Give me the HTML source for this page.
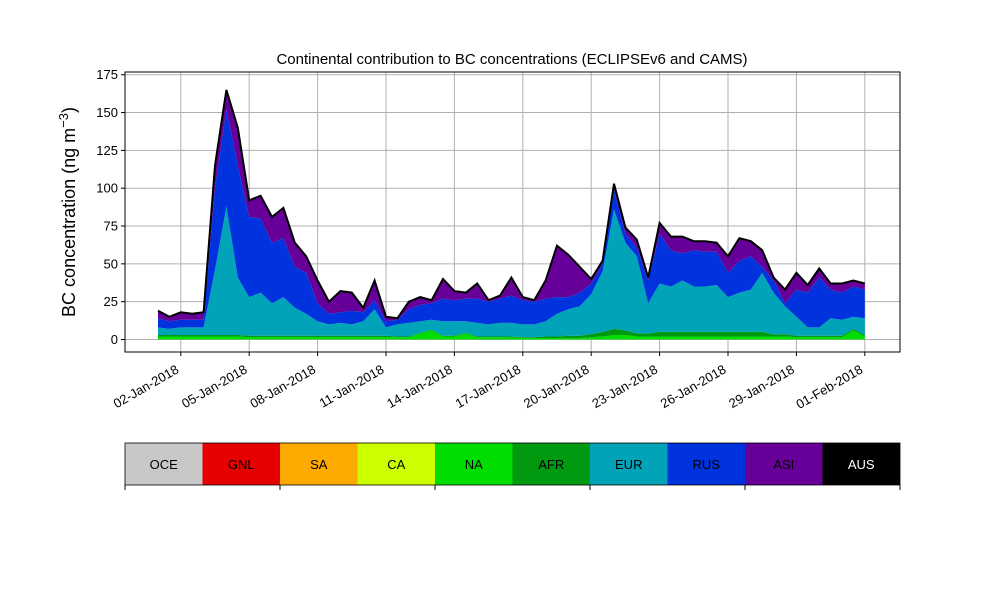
<!DOCTYPE html>
<html><head><meta charset="utf-8"><style>
body{margin:0;background:#fff;}
svg text{font-family:"Liberation Sans",sans-serif;}
</style></head><body>
<svg id="chart" width="1000" height="600" xmlns="http://www.w3.org/2000/svg">
<rect width="1000" height="600" fill="#fff"/>
<text x="512" y="64" font-size="15" text-anchor="middle">Continental contribution to BC concentrations (ECLIPSEv6 and CAMS)</text>
<text transform="translate(75,212) rotate(-90)" font-size="18" text-anchor="middle">BC concentration (ng m<tspan dy="-7" font-size="13">−3</tspan><tspan dy="7">)</tspan></text>
<g id="grid"></g><g id="areas"></g><g id="axes"></g><g id="legend"></g>
</svg>
<script>
// half-day samples starting 01-Jan-2018 00:00
const naVals  =[2,2,2,2,2,2,2,2,1.5,1.5,1.5,1.5,1.5,1.5,1.5,1.5,1.5,1.5,1.5,1.5,1.5,1.5,1.5,4,6,2,2,4,1.5,1.5,1.5,1.5,1,1,1,1,1,1,1.5,2,3,3,2,2,2,2,2,2,2,2,2,2,2,2,2,2,1.5,1.5,1.5,1.5,1.5,6,2];
const afrVals =[1,1,1,1,1,1,1,1,1,1,1,1,1,1,1,1,1,1,1,1,1,0.5,0.5,0.5,0.5,0.5,0.5,0.5,0.5,0.5,0.5,0.5,0.5,0.5,1,1,1.5,1.5,2,3,4,3,2,2,3,3,3,3,3,3,3,3,3,3,1.5,1.5,1,1,1,1,1,1,1];
const eurVals =[5,4,5,5,5,43,85,38,25.5,28.5,21.5,25.5,18.5,14.5,9.5,7.5,8.5,7.5,9.5,17.5,5.5,8,9,7.5,6.5,9.5,9.5,7.5,9,8,9,9,8.5,8.5,10,15,17.5,19.5,26.5,40,79,58,51,20,32,30,34,30,30,31,23,26,28,39,27.5,18.5,12.5,5.5,5.5,11.5,10.5,8,11];
const rusVals =[6,5,5,5,5,54,64,74,53,49,40,39,27,27,12,7,7,9,6,6,4,3,9,11,11,15,14,15,16,15,16,18,16,15,15,11,8,9,7,5,13,6,6,15,33,24,18,24,23,22,16,21,22,4,8,2,18,23,33,19,18,20,19];
const asiVals =[5,3,5,4,5,15,13,25,11,15,17,20,16,11,15,8,14,12,3,13,3,1,5,5,2,13,6,4,10,1,2,12,2,1,12,34,28,17,3,2,4,4,5,2,7,9,11,6,7,6,11,15,10,11,2,9,11,5,6,4,6,4,4];
const seriesList=[naVals,afrVals,eurVals,rusVals,asiVals];
const seriesColors=["#00dd00","#00990f","#00a3b8","#0033dd","#660099"];
const seriesNames=["na-area","afr-area","eur-area","rus-area","asi-area"];
const yTicks=[0,25,50,75,100,125,150,175];
const xTickLabels=["02-Jan-2018","05-Jan-2018","08-Jan-2018","11-Jan-2018","14-Jan-2018","17-Jan-2018","20-Jan-2018","23-Jan-2018","26-Jan-2018","29-Jan-2018","01-Feb-2018"];
const xTickDays=[1,4,7,10,13,16,19,22,25,28,31];
const legendNames=["OCE","GNL","SA","CA","NA","AFR","EUR","RUS","ASI","AUS"];
const legendColors=["#c8c8c8","#e60000","#ffaa00","#ccff00","#00dd00","#00990f","#00a3b8","#0033dd","#660099","#000000"];

const NS="http://www.w3.org/2000/svg";
const L=125,R=900,T=72,B=352;
const xDay=d=>158+d*22.8;          // day offset from 01-Jan 00:00
const yV=v=>339.5-v*1.513;
function mk(tag,attrs,parent){const e=document.createElementNS(NS,tag);for(const k in attrs)e.setAttribute(k,attrs[k]);parent.appendChild(e);return e;}
const grid=document.getElementById('grid'),areas=document.getElementById('areas'),axes=document.getElementById('axes'),leg=document.getElementById('legend');

yTicks.forEach(v=>{
  const g=mk('line',{x1:L,x2:R,y1:yV(v),y2:yV(v),stroke:'#b0b0b0','stroke-width':1},grid);
  
  
  mk('line',{x1:L-4,x2:L,y1:yV(v),y2:yV(v),stroke:'#000'},axes);
  const t=mk('text',{x:L-7,y:yV(v)+4.5,'font-size':13,'text-anchor':'end'},axes);
  t.textContent=v;
  
  
});
xTickDays.forEach((d,i)=>{
  const x=xDay(d);
  const g=mk('line',{x1:x,x2:x,y1:T,y2:B,stroke:'#b0b0b0','stroke-width':1},grid);
  
  
  mk('line',{x1:x,x2:x,y1:B,y2:B+4,stroke:'#000'},axes);
  const t=mk('text',{transform:`translate(${x-1},${B+20}) rotate(-30)`,'font-size':13,'text-anchor':'end'},axes);
  t.textContent=xTickLabels[i];
  
  
});

const n=naVals.length;
let base=new Array(n).fill(0);
seriesList.forEach((s,k)=>{
  const top=base.map((b,i)=>b+s[i]);
  let d='';
  for(let i=0;i<n;i++)d+=(i?'L':'M')+xDay(i*0.5).toFixed(1)+','+yV(top[i]).toFixed(1);
  for(let i=n-1;i>=0;i--)d+='L'+xDay(i*0.5).toFixed(1)+','+yV(base[i]).toFixed(1);
  const p=mk('path',{d:d+'Z',fill:seriesColors[k],stroke:'none'},areas);
  
  
  base=top;
});
let dl='';
for(let i=0;i<n;i++)dl+=(i?'L':'M')+xDay(i*0.5).toFixed(1)+','+yV(base[i]).toFixed(1);
const tl=mk('path',{d:dl,fill:'none',stroke:'#000','stroke-width':2},areas);



const fr=mk('rect',{x:L,y:T,width:R-L,height:B-T,fill:'none',stroke:'#000','stroke-width':1},axes);



const cw=(R-L)/legendNames.length;
legendNames.forEach((nm,i)=>{
  const r=mk('rect',{x:L+i*cw,y:443,width:cw,height:42,fill:legendColors[i]},leg);
  
  
  const t=mk('text',{x:L+i*cw+cw/2,y:469,'font-size':13,'text-anchor':'middle',fill:nm==='AUS'?'#fff':'#000'},leg);
  t.textContent=nm;
  
  
});
const lf=mk('rect',{x:L,y:443,width:R-L,height:42,fill:'none',stroke:'#000','stroke-width':0.8},leg);


for(let i=0;i<=5;i++){const x=L+i*2*cw;mk('line',{x1:x,x2:x,y1:485,y2:490,stroke:'#000'},leg);}
</script>
</body></html>
